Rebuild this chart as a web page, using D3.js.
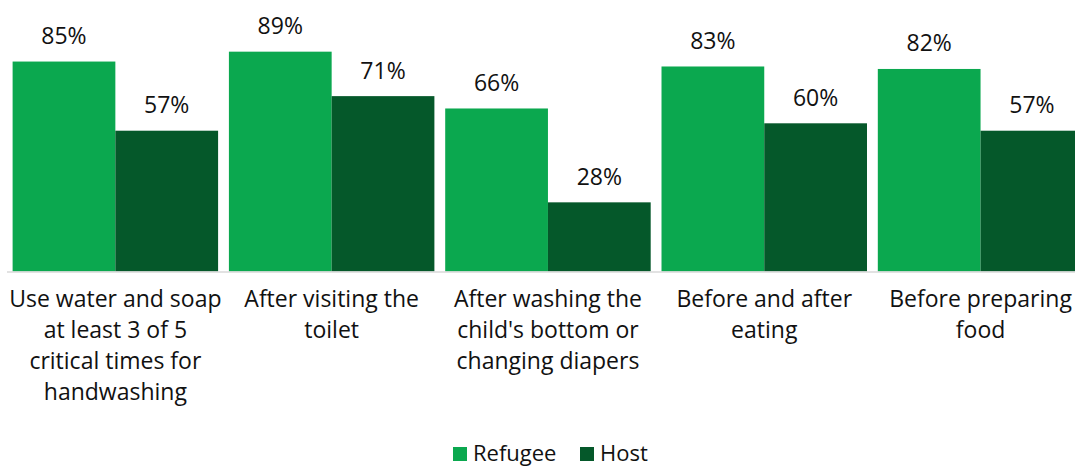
<!DOCTYPE html>
<html>
<head>
<meta charset="utf-8">
<script src="https://cdn.jsdelivr.net/npm/d3@7"></script>
<style>
  html, body { margin: 0; padding: 0; background: #fff; }
  svg { display: block; font-family: "Open Sans", "Lato", sans-serif; }
</style>
</head>
<body>
<svg id="chart" width="1075" height="468"></svg>
<script>
// Handwashing practices, refugee vs host households (%)
const categories = [
  "Use water and soap\nat least 3 of 5\ncritical times for\nhandwashing",
  "After visiting the\ntoilet",
  "After washing the\nchild's bottom or\nchanging diapers",
  "Before and after\neating",
  "Before preparing\nfood"
];
const seriesNames = ["Refugee", "Host"];
const refugee = [85, 89, 66, 83, 82];
const host = [57, 71, 28, 60, 57];
const colors = ["#0ba84f", "#05582a"];

const FONT = 23;

const svg = d3.select("#chart");

const x = d3.scaleBand()
  .domain(d3.range(categories.length))
  .range([7.2, 1088.7])
  .paddingInner(0.05)
  .paddingOuter(0.025);

const xs = d3.scaleBand()
  .domain(seriesNames)
  .range([0, x.bandwidth()]);

const y = d3.scaleLinear().domain([0, 100]).range([271.5, 24.5]);

const rows = categories.map((c, i) => ({
  i,
  values: [
    { key: "Refugee", value: refugee[i] },
    { key: "Host", value: host[i] }
  ]
}));

const groups = svg.selectAll("g.group")
  .data(rows)
  .join("g")
  .attr("class", "group")
  .attr("transform", d => `translate(${x(d.i)},0)`);

groups.selectAll("rect")
  .data(d => d.values)
  .join("rect")
  .attr("x", d => xs(d.key))
  .attr("y", d => y(d.value))
  .attr("width", xs.bandwidth())
  .attr("height", d => y(0) - y(d.value))
  .attr("fill", (d, j) => colors[j]);

groups.selectAll("text.value")
  .data(d => d.values)
  .join("text")
  .attr("class", "value")
  .attr("x", d => xs(d.key) + xs.bandwidth() / 2)
  .attr("y", d => y(d.value) - 17.5)
  .attr("text-anchor", "middle")
  .attr("font-size", FONT)
  .attr("fill", "#111")
  .text(d => d.value + "%");

// baseline
svg.append("line")
  .attr("x1", 7).attr("x2", 1075)
  .attr("y1", y(0) + 0.5).attr("y2", y(0) + 0.5)
  .attr("stroke", "#d9d9d9")
  .attr("stroke-width", 1.5);

// category labels
const labels = svg.selectAll("text.cat")
  .data(categories)
  .join("text")
  .attr("class", "cat")
  .attr("text-anchor", "middle")
  .attr("font-size", FONT)
  .attr("fill", "#111")
  .attr("transform", (d, i) => `translate(${x(i) + x.bandwidth() / 2},307)`);

labels.selectAll("tspan")
  .data(d => d.split("\n"))
  .join("tspan")
  .attr("x", 0)
  .attr("y", (d, k) => k * 31)
  .text(d => d);

// legend
const legend = svg.append("g");
const legendX = [453, 580];
seriesNames.forEach((name, k) => {
  legend.append("rect")
    .attr("x", legendX[k]).attr("y", 447)
    .attr("width", 14).attr("height", 14)
    .attr("fill", colors[k]);
  legend.append("text")
    .attr("x", legendX[k] + 20).attr("y", 461)
    .attr("font-size", FONT - 1)
    .attr("fill", "#111")
    .text(name);
});
</script>
</body>
</html>
